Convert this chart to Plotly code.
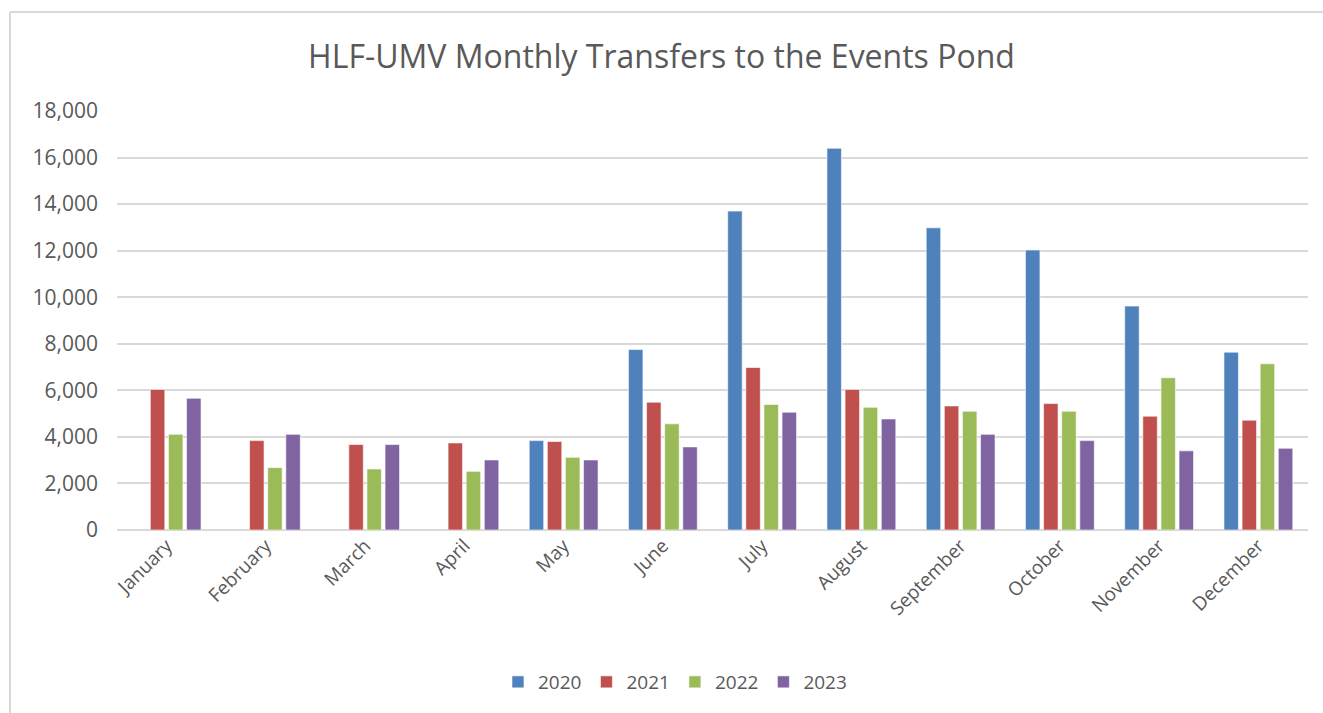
import plotly.graph_objects as go

months = ["January", "February", "March", "April", "May", "June",
          "July", "August", "September", "October", "November", "December"]

# Monthly transfers per year (None where no transfer was recorded)
y2020 = [None, None, None, None, 3840, 7750, 13700, 16400, 12980, 12030, 9620, 7640]
y2021 = [6040, 3840, 3670, 3740, 3800, 5490, 6980, 6040, 5330, 5430, 4890, 4720]
y2022 = [4110, 2680, 2620, 2520, 3120, 4560, 5390, 5270, 5100, 5100, 6540, 7140]
y2023 = [5660, 4110, 3670, 3010, 3010, 3570, 5060, 4770, 4110, 3840, 3400, 3510]

series = [
    ("2020", y2020, "#4F81BD"),
    ("2021", y2021, "#C0504D"),
    ("2022", y2022, "#9BBB59"),
    ("2023", y2023, "#8064A2"),
]

font_family = "Open Sans, Liberation Sans, sans-serif"
text_color = "#595959"

fig = go.Figure()
for name, vals, color in series:
    fig.add_trace(go.Bar(
        name=name, x=months, y=vals,
        marker=dict(color=color, line=dict(color="rgba(255,255,255,0.6)", width=1)),
    ))

# chart frame edges in pixel terms, converted to paper coordinates
PL, PR, PT, PB = 117, 1308, 111, 530
pw, ph = PR - PL, PB - PT
frame_left = (10 - PL) / pw
frame_top = (PB - 12) / ph

fig.update_layout(
    width=1323, height=713,
    paper_bgcolor="white", plot_bgcolor="white",
    barmode="group", bargap=0.27, bargroupgap=0.2,
    margin=dict(l=PL, r=1323 - PR, t=PT, b=713 - PB),
    title=dict(
        text="HLF-UMV Monthly Transfers to the Events Pond",
        x=0.5, xanchor="center", y=1 - 57 / 713, yanchor="middle",
        font=dict(family=font_family, size=32, color=text_color),
    ),
    font=dict(family=font_family, color=text_color),
    legend=dict(
        orientation="h", x=0.4685, xanchor="center", y=-0.3628, yanchor="middle",
        font=dict(size=19, color=text_color), traceorder="normal",
    ),
    xaxis=dict(
        tickangle=-45, tickfont=dict(size=19, color=text_color),
        showgrid=False, showline=False, ticks="",
    ),
    yaxis=dict(
        range=[0, 18000], dtick=2000, tickformat=",",
        tickfont=dict(size=21, color=text_color),
        showgrid=True, gridcolor="#D9D9D9", gridwidth=2,
        zeroline=True, zerolinecolor="#D9D9D9", zerolinewidth=2,
        showline=False, ticks="", ticklabelstandoff=18,
    ),
    shapes=[
        dict(type="line", xref="paper", yref="paper",
             x0=frame_left, x1=(1330 - PL) / pw,
             y0=frame_top, y1=frame_top,
             line=dict(color="#D9D9D9", width=2)),
        dict(type="line", xref="paper", yref="paper",
             x0=frame_left, x1=frame_left,
             y0=frame_top, y1=(PB - 720) / ph,
             line=dict(color="#D9D9D9", width=2)),
    ],
)

fig.write_html("out.html")
